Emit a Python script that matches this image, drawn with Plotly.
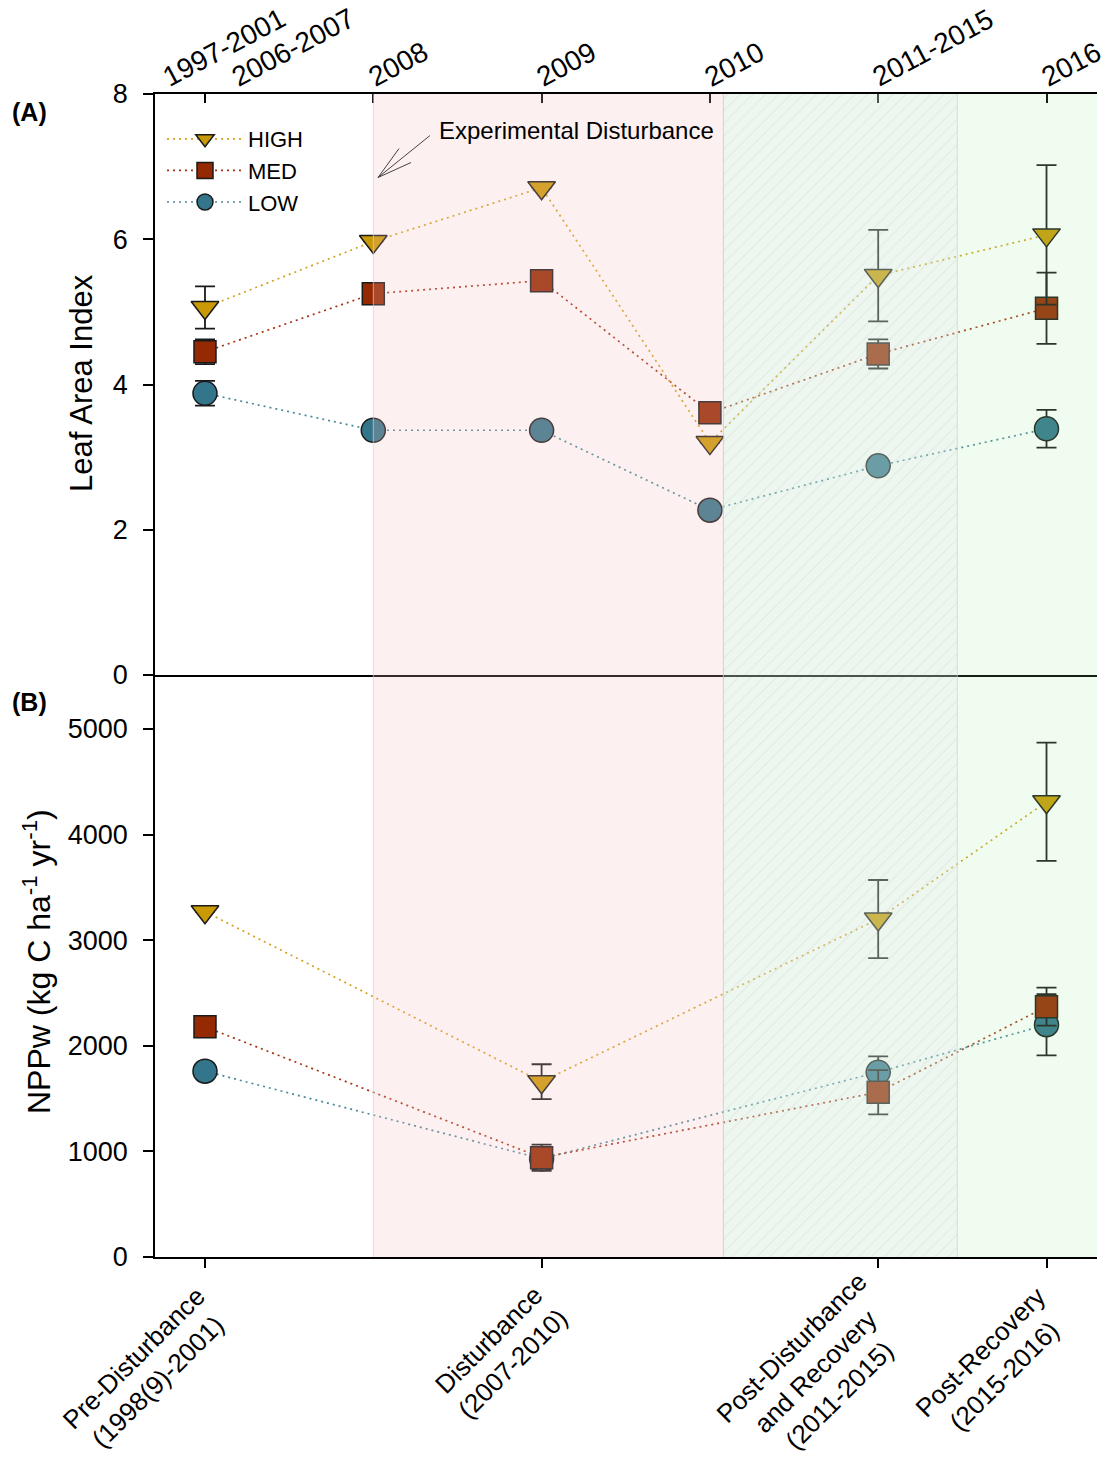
import plotly.graph_objects as go

W, H = 1111, 1466

# ---------------- data ----------------
lai_x = [0, 1, 2, 3, 4, 5]
lai_high = [5.06, 5.97, 6.71, 3.20, 5.50, 6.06]
lai_high_err = [0.29, None, None, None, 0.63, 0.96]
lai_med = [4.45, 5.25, 5.43, 3.61, 4.42, 5.05]
lai_med_err = [0.17, None, None, None, 0.20, 0.49]
lai_low = [3.88, 3.37, 3.37, 2.27, 2.88, 3.39]
lai_low_err = [0.17, None, None, None, None, 0.26]

npp_x = [0, 2, 4, 5]
npp_high = [3270, 1660, 3200, 4310]
npp_high_err = [None, 165, 370, 560]
npp_med = [2180, 940, 1560, 2370]
npp_med_err = [None, 125, 210, 180]
npp_low = [1760, 930, 1750, 2200]
npp_low_err = [None, 100, 150, 290]

series_names = ["LOW", "MED", "HIGH"]

top_tick_vals = [0, 1, 2, 3, 4, 5]
top_tick_labels = ["1997-2001", "2006-2007", "2008", "2009", "2010", "2011-2015", "2016"]
top_label_x = [0, 0, 1, 2, 3, 4, 5]

phase_x = [0, 2, 4, 5]
phase_labels = [
    "Pre-Disturbance<br>(1998(9)-2001)",
    "Disturbance<br>(2007-2010)",
    "Post-Disturbance<br>and Recovery<br>(2011-2015)",
    "Post-Recovery<br>(2015-2016)",
]

lai_ticks = [0, 2, 4, 6, 8]
npp_ticks = [0, 1000, 2000, 3000, 4000, 5000]

# period boundaries (x units)
disturb_start, disturb_end = 1.0, 3.08
postdist_end = 4.47

# ---------------- layout constants ----------------
FONT = "Liberation Sans, Arial, sans-serif"
XR = [-0.297, 5.30]
XDOM = [155 / W, 1097 / W]
TOP_DOM = [1 - 675 / H, 1 - 94 / H]
BOT_DOM = [1 - 1257 / H, 1 - 675 / H]
LAI_R = [0, 8]
NPP_R = [0, 5511]

styles = {
    "HIGH": dict(symbol="triangle-down", size=24, color="#C99A05", line="#D2A21E"),
    "MED": dict(symbol="square", size=22, color="#952A02", line="#A83414"),
    "LOW": dict(symbol="circle", size=24, color="#33758B", line="#4A8A9C"),
}

top_data = {"HIGH": (lai_high, lai_high_err), "MED": (lai_med, lai_med_err), "LOW": (lai_low, lai_low_err)}
bot_data = {"HIGH": (npp_high, npp_high_err), "MED": (npp_med, npp_med_err), "LOW": (npp_low, npp_low_err)}

fig = go.Figure()

# hatch pattern for the post-disturbance period (both panels)
for xa, ya, yr in [("x2", "y2", LAI_R), ("x", "y", NPP_R)]:
    fig.add_trace(go.Scatter(
        x=[disturb_end, postdist_end, postdist_end, disturb_end, disturb_end],
        y=[yr[0], yr[0], yr[1], yr[1], yr[0]],
        xaxis=xa, yaxis=ya, mode="none", fill="toself",
        fillcolor="rgba(0,0,0,0)",
        fillpattern=dict(shape="/", size=9, solidity=0.12,
                         fgcolor="rgba(120,140,125,0.32)", bgcolor="rgba(0,0,0,0)"),
        showlegend=False, hoverinfo="skip"))


def err(arr):
    return dict(type="data", array=arr, visible=True, color="#1a1a1a", thickness=1.8, width=10)


for name in series_names:
    st = styles[name]
    y, e = top_data[name]
    fig.add_trace(go.Scatter(
        x=lai_x, y=y, xaxis="x2", yaxis="y2", mode="lines+markers", name=name,
        legendgroup=name, showlegend=True,
        line=dict(color=st["line"], width=1.7, dash="2px,4px"),
        marker=dict(symbol=st["symbol"], size=st["size"], color=st["color"],
                    line=dict(color="#1a1a1a", width=1.5)),
        error_y=err(e)))
    y, e = bot_data[name]
    fig.add_trace(go.Scatter(
        x=npp_x, y=y, xaxis="x", yaxis="y", mode="lines+markers", name=name,
        legendgroup=name, showlegend=False,
        line=dict(color=st["line"], width=1.7, dash="2px,4px"),
        marker=dict(symbol=st["symbol"], size=st["size"], color=st["color"],
                    line=dict(color="#1a1a1a", width=1.5)),
        error_y=err(e)))

# period tints (drawn above the data, semi-transparent)
shapes = [
    dict(type="rect", xref="x", yref="paper", x0=disturb_start, x1=disturb_end,
         y0=BOT_DOM[0], y1=TOP_DOM[1], fillcolor="rgba(245,185,185,0.22)", line=dict(width=0), layer="above"),
    dict(type="rect", xref="x", yref="paper", x0=disturb_end, x1=postdist_end,
         y0=BOT_DOM[0], y1=TOP_DOM[1], fillcolor="rgba(205,230,210,0.36)", line=dict(width=0), layer="above"),
    dict(type="rect", xref="x", yref="paper", x0=postdist_end, x1=XR[1],
         y0=BOT_DOM[0], y1=TOP_DOM[1], fillcolor="rgba(150,235,150,0.14)", line=dict(width=0), layer="above"),
    dict(type="line", xref="x", yref="paper", x0=disturb_start, x1=disturb_start,
         y0=BOT_DOM[0], y1=TOP_DOM[1], line=dict(color="rgba(240,200,200,0.7)", width=1), layer="above"),
    dict(type="line", xref="x", yref="paper", x0=disturb_end, x1=disturb_end,
         y0=BOT_DOM[0], y1=TOP_DOM[1], line=dict(color="rgba(200,200,200,0.8)", width=1), layer="above"),
    dict(type="line", xref="x", yref="paper", x0=postdist_end, x1=postdist_end,
         y0=BOT_DOM[0], y1=TOP_DOM[1], line=dict(color="rgba(205,210,205,0.7)", width=1), layer="above"),
    # arrow for "Experimental Disturbance"
    dict(type="path", xref="x2", yref="y2", xsizemode="pixel", ysizemode="pixel",
         xanchor=1.028, yanchor=6.85,
         path="M52,42 L0,0 M21,29 L0,0 L33,15",
         line=dict(color="#444444", width=1), layer="above"),
]

annotations = []
# top tick labels
top_label_shift = [-50, 19, -13, -13, -13, -13, -13]
for lab, xv, sh in zip(top_tick_labels, top_label_x, top_label_shift):
    annotations.append(dict(text=lab, x=xv, xref="x2", y=1 - 95 / H, yref="paper",
                            xanchor="left", yanchor="bottom", textangle=-28, xshift=sh,
                            showarrow=False, font=dict(size=28, color="black", family=FONT)))
# bottom phase labels (centres)
phase_dx = [-59, -41, -63, -54]
phase_cy = [1370, 1352, 1372, 1364]
for lab, xv, dx, cy in zip(phase_labels, phase_x, phase_dx, phase_cy):
    annotations.append(dict(text=lab, x=xv, xref="x", y=1 - cy / H, yref="paper",
                            xanchor="center", yanchor="middle", textangle=-45, xshift=dx,
                            align="center", showarrow=False,
                            font=dict(size=26, color="black", family=FONT)))
# axis titles
annotations.append(dict(text="Leaf Area Index", x=81 / W, y=1 - 383 / H, xref="paper", yref="paper",
                        xanchor="center", yanchor="middle", textangle=-90, showarrow=False,
                        font=dict(size=31, color="black", family=FONT)))
annotations.append(dict(text="NPPw (kg C ha<sup>-1</sup> yr<sup>-1</sup>)", x=37 / W, y=1 - 962 / H,
                        xref="paper", yref="paper", xanchor="center", yanchor="middle",
                        textangle=-90, showarrow=False,
                        font=dict(size=32, color="black", family=FONT)))
# panel labels
annotations.append(dict(text="<b>(A)</b>", x=29 / W, y=1 - 112 / H, xref="paper", yref="paper",
                        xanchor="center", yanchor="middle", showarrow=False,
                        font=dict(size=25, color="black", family=FONT)))
annotations.append(dict(text="<b>(B)</b>", x=29 / W, y=1 - 702 / H, xref="paper", yref="paper",
                        xanchor="center", yanchor="middle", showarrow=False,
                        font=dict(size=25, color="black", family=FONT)))
annotations.append(dict(text="Experimental Disturbance", x=437 / W, y=1 - 131 / H,
                        xref="paper", yref="paper", xanchor="left", yanchor="middle",
                        showarrow=False, font=dict(size=24, color="black", family=FONT)))

axis_common = dict(showgrid=False, zeroline=False, showline=True, linecolor="black",
                   linewidth=1.5, tickcolor="black", tickwidth=1.5, automargin=False)

fig.update_layout(
    width=W, height=H, margin=dict(l=0, r=0, t=0, b=0, autoexpand=False),
    paper_bgcolor="white", plot_bgcolor="white",
    font=dict(family=FONT, color="black"),
    showlegend=True,
    legend=dict(x=162 / W, y=1 - 118 / H, xanchor="left", yanchor="top",
                traceorder="reversed", font=dict(size=22, family=FONT, color="black"),
                bgcolor="rgba(0,0,0,0)", itemwidth=76, tracegroupgap=0),
    xaxis=dict(domain=XDOM, range=XR, anchor="y", tickvals=phase_x, ticks="outside",
               ticklen=9, showticklabels=False, mirror=False, **axis_common),
    yaxis=dict(domain=BOT_DOM, range=NPP_R, anchor="x", tickvals=npp_ticks, ticks="outside",
               ticklen=10, tickfont=dict(size=27), ticklabelstandoff=10, **axis_common),
    yaxis3=dict(overlaying="y", side="right", anchor="x", range=NPP_R, tickvals=npp_ticks[1:],
                ticks="inside", ticklen=9, showticklabels=False, **axis_common),
    xaxis2=dict(domain=XDOM, range=XR, anchor="y2", side="top", tickvals=top_tick_vals,
                ticks="inside", ticklen=9, showticklabels=False, mirror=True, **axis_common),
    yaxis2=dict(domain=TOP_DOM, range=LAI_R, anchor="x2", tickvals=lai_ticks, ticks="outside",
                ticklen=10, tickfont=dict(size=27), ticklabelstandoff=10, **axis_common),
    yaxis4=dict(overlaying="y2", side="right", anchor="x2", range=LAI_R, tickvals=lai_ticks[1:-1],
                ticks="inside", ticklen=9, showticklabels=False, **axis_common),
    shapes=shapes,
    annotations=annotations,
)

fig.write_html("out.html")
